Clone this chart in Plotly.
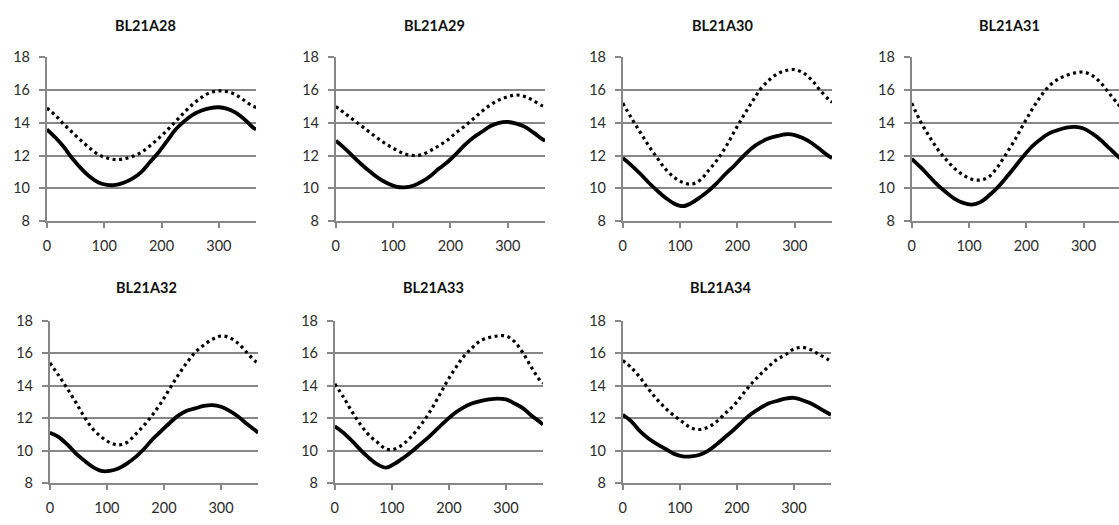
import plotly.graph_objects as go

titles = ["BL21A28", "BL21A29", "BL21A30", "BL21A31", "BL21A32", "BL21A33", "BL21A34"]

days = [0, 15, 30, 45, 60, 75, 90, 105, 120, 135, 150, 165, 180, 195, 210, 225,
        240, 255, 270, 285, 300, 315, 330, 345, 360, 365]

solid_bl21a28 = [13.6, 13.1, 12.5, 11.8, 11.2, 10.7, 10.35, 10.2, 10.2, 10.35, 10.6, 11.0, 11.6,
                 12.2, 12.9, 13.6, 14.1, 14.5, 14.75, 14.9, 14.95, 14.85, 14.6, 14.2, 13.7, 13.6]
dotted_bl21a28 = [14.9, 14.45, 13.9, 13.4, 12.9, 12.45, 12.05, 11.85, 11.75, 11.8, 11.95, 12.2, 12.6,
                  13.05, 13.55, 14.1, 14.65, 15.15, 15.55, 15.85, 15.95, 15.9, 15.7, 15.35, 15.0, 14.95]

solid_bl21a29 = [12.9, 12.45, 11.95, 11.45, 11.0, 10.6, 10.3, 10.1, 10.05, 10.15, 10.4, 10.75, 11.2,
                 11.6, 12.1, 12.65, 13.1, 13.45, 13.8, 14.0, 14.05, 13.95, 13.75, 13.4, 13.0, 12.9]
dotted_bl21a29 = [15.0, 14.6, 14.2, 13.8, 13.4, 13.0, 12.65, 12.35, 12.1, 12.0, 12.05, 12.3, 12.6,
                  12.95, 13.4, 13.8, 14.25, 14.7, 15.1, 15.4, 15.6, 15.7, 15.6, 15.35, 15.05, 15.0]

solid_bl21a30 = [11.85, 11.4, 10.9, 10.35, 9.85, 9.4, 9.05, 8.9, 9.1, 9.45, 9.85, 10.35, 10.9,
                 11.4, 11.95, 12.45, 12.8, 13.05, 13.2, 13.3, 13.25, 13.05, 12.75, 12.35, 11.95, 11.85]
dotted_bl21a30 = [15.2, 14.3, 13.45, 12.6, 11.85, 11.15, 10.65, 10.35, 10.25, 10.5, 11.1, 11.75, 12.55,
                  13.5, 14.4, 15.25, 16.05, 16.6, 17.0, 17.2, 17.25, 17.05, 16.6, 15.95, 15.4, 15.25]

solid_bl21a31 = [11.8, 11.3, 10.75, 10.2, 9.75, 9.35, 9.1, 9.0, 9.15, 9.55, 10.05, 10.65, 11.3,
                 11.95, 12.55, 13.0, 13.35, 13.55, 13.7, 13.75, 13.65, 13.35, 12.95, 12.45, 11.95, 11.8]
dotted_bl21a31 = [15.2, 14.1, 13.2, 12.4, 11.75, 11.2, 10.8, 10.55, 10.5, 10.7, 11.3, 12.1, 12.95,
                  13.9, 14.8, 15.6, 16.25, 16.65, 16.9, 17.05, 17.1, 16.9, 16.45, 15.8, 15.15, 14.95]

solid_bl21a32 = [11.1, 10.85, 10.4, 9.85, 9.4, 9.0, 8.75, 8.75, 8.9, 9.2, 9.6, 10.1, 10.7,
                 11.2, 11.7, 12.15, 12.45, 12.6, 12.75, 12.8, 12.7, 12.45, 12.1, 11.65, 11.25, 11.1]
dotted_bl21a32 = [15.4, 14.65, 13.85, 13.0, 12.1, 11.35, 10.85, 10.5, 10.35, 10.5, 11.0, 11.55, 12.2,
                  12.95, 13.8, 14.65, 15.4, 16.05, 16.5, 16.85, 17.05, 16.95, 16.6, 16.05, 15.5, 15.4]

solid_bl21a33 = [11.5, 11.1, 10.6, 10.05, 9.55, 9.15, 8.95, 9.2, 9.55, 9.95, 10.4, 10.85, 11.35,
                 11.85, 12.3, 12.65, 12.9, 13.05, 13.15, 13.2, 13.15, 12.9, 12.6, 12.15, 11.75, 11.6]
dotted_bl21a33 = [14.1, 13.3, 12.4, 11.6, 10.95, 10.5, 10.1, 10.1, 10.4, 10.9, 11.55, 12.3, 13.2,
                  14.15, 15.0, 15.75, 16.3, 16.75, 16.95, 17.05, 17.05, 16.7, 16.0, 15.1, 14.3, 14.15]

solid_bl21a34 = [12.2, 11.8, 11.2, 10.75, 10.4, 10.1, 9.8, 9.65, 9.65, 9.75, 10.0, 10.4, 10.85,
                 11.3, 11.8, 12.25, 12.6, 12.9, 13.05, 13.2, 13.25, 13.1, 12.9, 12.6, 12.3, 12.2]
dotted_bl21a34 = [15.55, 15.1, 14.5, 13.8, 13.15, 12.6, 12.15, 11.75, 11.4, 11.3, 11.45, 11.8, 12.3,
                  12.8, 13.45, 14.1, 14.65, 15.15, 15.6, 15.9, 16.25, 16.35, 16.2, 15.9, 15.6, 15.5]

solid_series = [solid_bl21a28, solid_bl21a29, solid_bl21a30, solid_bl21a31,
                solid_bl21a32, solid_bl21a33, solid_bl21a34]
dotted_series = [dotted_bl21a28, dotted_bl21a29, dotted_bl21a30, dotted_bl21a31,
                 dotted_bl21a32, dotted_bl21a33, dotted_bl21a34]

y_ticks = [8, 10, 12, 14, 16, 18]
x_ticks = [0, 100, 200, 300]

W, H = 1119, 525
# pixel boxes of each plot area: (left, right, top, bottom)
boxes = [
    (43, 253, 50, 219), (333, 543, 50, 219), (621, 831, 50, 219), (911, 1119, 50, 219),
    (46, 255, 322, 490), (332, 541, 322, 490), (621, 830, 322, 490),
]
title_pos = [(142, 17), (432, 17), (721, 17), (1009, 17), (143, 288), (431, 288), (719, 288)]
x_max = [365, 365, 365, 362, 365, 365, 365]

GRAY = "#878787"
TXT = "#2b2b2b"
FONT = "Lato, 'Open Sans', sans-serif"

fig = go.Figure()
layout = dict(
    width=W, height=H, margin=dict(l=0, r=0, t=0, b=0),
    paper_bgcolor="white", plot_bgcolor="white", showlegend=False,
    font=dict(family=FONT, size=14, color=TXT),
)
annotations = []
for i in range(7):
    n = "" if i == 0 else str(i + 1)
    l, r, t, b = boxes[i]
    fig.add_trace(go.Scatter(x=days, y=dotted_series[i], mode="lines", line_shape="spline",
                             line=dict(color="black", width=3.2, dash="3px,3.5px"),
                             xaxis="x" + n, yaxis="y" + n, hoverinfo="skip"))
    fig.add_trace(go.Scatter(x=days, y=solid_series[i], mode="lines", line_shape="spline",
                             line=dict(color="black", width=3.8),
                             xaxis="x" + n, yaxis="y" + n, hoverinfo="skip"))
    layout["xaxis" + n] = dict(
        domain=[l / W, r / W], anchor="y" + n, range=[0, x_max[i]],
        tickvals=x_ticks, ticks="outside", ticklen=5, tickcolor=GRAY, tickwidth=1.8,
        showline=True, linecolor=GRAY, linewidth=1.8, showgrid=False, zeroline=False,
        ticklabelstandoff=6, tickfont=dict(size=14.5, family=FONT, color=TXT),
    )
    layout["yaxis" + n] = dict(
        domain=[1 - b / H, 1 - t / H], anchor="x" + n, range=[8, 18],
        tickvals=y_ticks, ticks="outside", ticklen=6, tickcolor=GRAY, tickwidth=1.8,
        showline=True, linecolor=GRAY, linewidth=1.8, showgrid=True, gridcolor=GRAY,
        gridwidth=1.8, zeroline=False, ticklabelstandoff=6,
        tickfont=dict(size=14.5, family=FONT, color=TXT),
    )
    tx, ty = title_pos[i]
    annotations.append(dict(text="<b>" + titles[i] + "</b>", x=tx / W, y=1 - ty / H,
                            xref="paper", yref="paper", showarrow=False,
                            xanchor="center", yanchor="middle",
                            font=dict(family=FONT, size=14.5, color="#111111")))
layout["annotations"] = annotations
fig.update_layout(**layout)
fig.write_html("out.html", config={"displayModeBar": False},
               post_script="document.body.style.margin='0';document.body.style.overflow='hidden';")
